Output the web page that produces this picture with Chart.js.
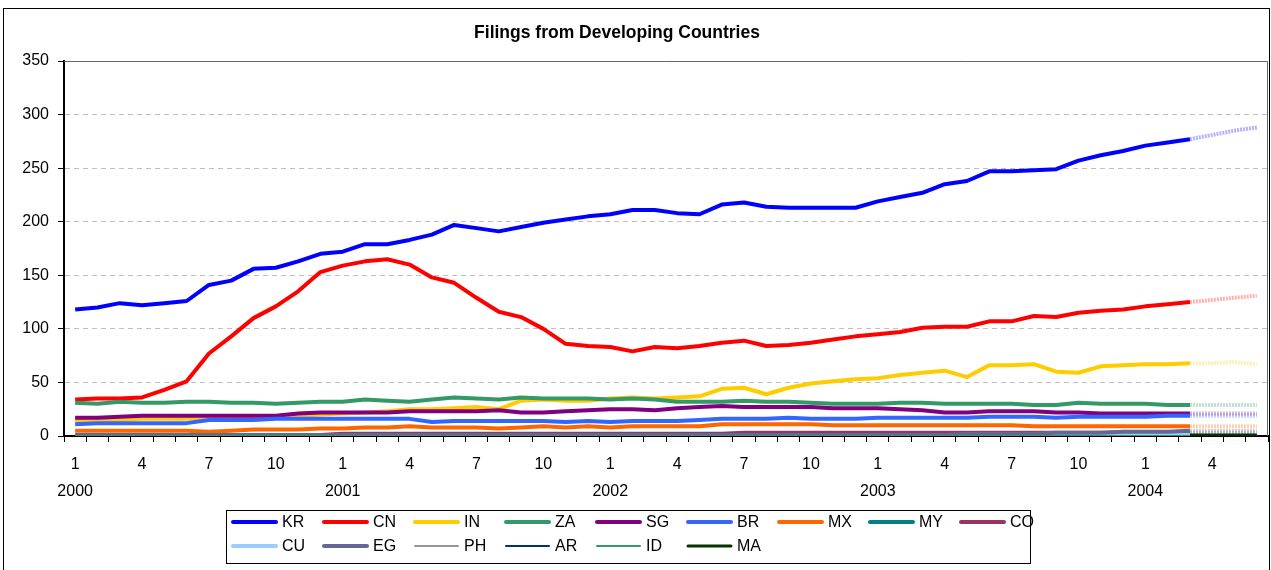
<!DOCTYPE html>
<html>
<head>
<meta charset="utf-8">
<title>Filings from Developing Countries</title>
<script src="https://cdn.jsdelivr.net/npm/chart.js@4.4.1/dist/chart.umd.min.js"></script>
<style>
    html, body { margin: 0; padding: 0; background: #fff; }
    canvas { display: block; }
</style>
</head>
<body>
<canvas id="grafico" width="1271" height="570"></canvas>
<script>
// --- Dados ---

const categories = [
    '2000-01', '2000-02', '2000-03', '2000-04', '2000-05', '2000-06', '2000-07', '2000-08', '2000-09', '2000-10', '2000-11', '2000-12',
    '2001-01', '2001-02', '2001-03', '2001-04', '2001-05', '2001-06', '2001-07', '2001-08', '2001-09', '2001-10', '2001-11', '2001-12',
    '2002-01', '2002-02', '2002-03', '2002-04', '2002-05', '2002-06', '2002-07', '2002-08', '2002-09', '2002-10', '2002-11', '2002-12',
    '2003-01', '2003-02', '2003-03', '2003-04', '2003-05', '2003-06', '2003-07', '2003-08', '2003-09', '2003-10', '2003-11', '2003-12',
    '2004-01', '2004-02', '2004-03', '2004-04', '2004-05', '2004-06'
];
const tickMonths = ['1', '4', '7', '10'];
const lastActual = '2004-03'; // depois disso é projeção
const yTicks = { min: 0, max: 350, step: 50 };

const kr = [118, 120, 124, 122, 124, 126, 141, 145, 156, 157, 163, 170, 172, 179, 179, 183, 188, 197, 194, 191, 195, 199, 202, 205, 207, 211, 211, 208, 207, 216, 218, 214, 213, 213, 213, 213, 219, 223, 227, 235, 238, 247, 247, 248, 249, 257, 262, 266, 271, 274, 277, 281, 285, 288];
const cn = [34, 35, 35, 36, 43, 51, 77, 93, 110, 121, 135, 153, 159, 163, 165, 160, 148, 143, 129, 116, 111, 100, 86, 84, 83, 79, 83, 82, 84, 87, 89, 84, 85, 87, 90, 93, 95, 97, 101, 102, 102, 107, 107, 112, 111, 115, 117, 118, 121, 123, 125, 127, 129, 131];
const inn = [14, 15, 15, 16, 16, 16, 17, 17, 17, 18, 19, 20, 21, 22, 23, 25, 25, 26, 27, 25, 33, 34, 33, 33, 35, 36, 35, 36, 37, 44, 45, 39, 45, 49, 51, 53, 54, 57, 59, 61, 55, 66, 66, 67, 60, 59, 65, 66, 67, 67, 68, 68, 69, 67];
const za = [31, 30, 32, 31, 31, 32, 32, 31, 31, 30, 31, 32, 32, 34, 33, 32, 34, 36, 35, 34, 36, 35, 35, 35, 34, 35, 34, 32, 32, 32, 33, 32, 32, 31, 30, 30, 30, 31, 31, 30, 30, 30, 30, 29, 29, 31, 30, 30, 30, 29, 29, 29, 29, 29];
const sg = [17, 17, 18, 19, 19, 19, 19, 19, 19, 19, 21, 22, 22, 22, 22, 23, 23, 23, 23, 24, 22, 22, 23, 24, 25, 25, 24, 26, 27, 28, 27, 27, 27, 27, 26, 26, 26, 25, 24, 22, 22, 23, 23, 23, 22, 22, 21, 21, 21, 21, 21, 21, 21, 21];
const br = [11, 12, 12, 12, 12, 12, 15, 15, 15, 16, 16, 16, 16, 16, 16, 16, 13, 14, 14, 14, 14, 14, 13, 14, 13, 14, 14, 14, 15, 16, 16, 16, 17, 16, 16, 16, 17, 17, 17, 17, 17, 18, 18, 18, 17, 18, 18, 18, 18, 19, 19, 19, 19, 19];
const mx = [5, 5, 5, 5, 5, 5, 4, 5, 6, 6, 6, 7, 7, 8, 8, 9, 8, 8, 8, 7, 8, 9, 8, 9, 8, 9, 9, 9, 9, 11, 11, 11, 11, 11, 10, 10, 10, 10, 10, 10, 10, 10, 10, 9, 9, 9, 9, 9, 9, 9, 9, 9, 9, 9];
const my = [1, 1, 1, 1, 1, 1, 1, 1, 1, 1, 1, 1, 1, 1, 1, 1, 1, 1, 1, 1, 1, 1, 1, 1, 1, 1, 1, 1, 1, 1, 1, 1, 1, 1, 1, 1, 1, 1, 1, 1, 1, 1, 1, 1, 1, 1, 1, 1, 1, 1, 1, 1, 1, 1];
const co = [1, 1, 1, 1, 1, 1, 1, 1, 1, 1, 1, 1, 2, 2, 2, 2, 2, 2, 2, 2, 2, 2, 2, 2, 2, 2, 2, 2, 2, 2, 3, 3, 3, 3, 3, 3, 3, 3, 3, 3, 3, 3, 3, 3, 3, 3, 3, 3, 3, 3, 3, 3, 3, 3];
const cu = [1, 1, 1, 1, 1, 1, 1, 1, 1, 1, 1, 1, 1, 1, 1, 1, 1, 1, 1, 1, 1, 1, 1, 1, 1, 1, 1, 1, 1, 1, 1, 1, 1, 1, 1, 1, 1, 1, 1, 1, 1, 1, 1, 1, 1, 1, 1, 1, 1, 1, 1, 1, 1, 1];
const eg = [1, 1, 1, 1, 1, 1, 1, 1, 1, 1, 1, 1, 1, 1, 1, 1, 1, 1, 1, 1, 1, 1, 1, 1, 1, 1, 1, 1, 1, 1, 1, 1, 1, 1, 1, 1, 1, 1, 1, 1, 2, 2, 2, 2, 3, 3, 3, 4, 4, 4, 5, 5, 5, 5];
const ph = [0, 0, 0, 0, 0, 0, 0, 0, 0, 0, 0, 0, 0, 0, 0, 0, 0, 0, 0, 0, 0, 0, 0, 0, 0, 0, 0, 0, 0, 0, 0, 0, 0, 0, 0, 0, 0, 0, 0, 0, 0, 0, 0, 0, 0, 0, 0, 0, 0, 0, 0, 0, 0, 0];
const ar = [0, 0, 0, 0, 0, 0, 0, 0, 0, 0, 0, 0, 0, 0, 0, 0, 0, 0, 0, 0, 0, 0, 0, 0, 0, 0, 0, 0, 0, 0, 0, 0, 0, 0, 0, 0, 0, 0, 0, 0, 0, 0, 0, 0, 0, 0, 0, 0, 0, 0, 0, 0, 0, 0];
const id = [0, 0, 0, 0, 0, 0, 0, 0, 0, 0, 0, 0, 0, 0, 0, 0, 0, 0, 0, 0, 0, 0, 0, 0, 0, 0, 0, 0, 0, 0, 0, 0, 0, 0, 0, 0, 0, 0, 0, 0, 0, 0, 0, 0, 0, 0, 0, 0, 0, 0, 0, 0, 0, 0];
const ma = [null, null, null, null, null, null, null, null, null, null, null, null, null, null, null, null, null, null, null, null, null, null, null, null, null, null, null, null, null, null, null, null, null, null, null, null, null, null, null, null, null, null, null, null, null, null, null, null, null, null, 1, 1, 1, 1];

// --- Séries (dados + estilo) ---

const series = [
    { code: 'KR', values: kr, color: '#0000FF', width: 4, projected: true },
    { code: 'CN', values: cn, color: '#FF0000', width: 4, projected: true },
    { code: 'IN', values: inn, color: '#FFCC00', width: 4, projected: true },
    { code: 'ZA', values: za, color: '#339966', width: 4, projected: true },
    { code: 'SG', values: sg, color: '#800080', width: 4, projected: true },
    { code: 'BR', values: br, color: '#3366FF', width: 4, projected: true },
    { code: 'MX', values: mx, color: '#FF6600', width: 4, projected: true },
    { code: 'MY', values: my, color: '#008080', width: 4, projected: true },
    { code: 'CO', values: co, color: '#993366', width: 4, projected: true },
    { code: 'CU', values: cu, color: '#99CCFF', width: 4, projected: true },
    { code: 'EG', values: eg, color: '#666699', width: 4, projected: true },
    { code: 'PH', values: ph, color: '#969696', width: 2, projected: true },
    { code: 'AR', values: ar, color: '#003366', width: 2, projected: true },
    { code: 'ID', values: id, color: '#339966', width: 2, projected: true },
    { code: 'MA', values: ma, color: '#003300', width: 3, projected: false }
];

const projStart = categories.indexOf(lastActual);
const fonte = "'Liberation Sans', Arial, sans-serif";

const fade = (hex, a) => {
    const n = parseInt(hex.slice(1), 16);
    return `rgba(${(n >> 16) & 255}, ${(n >> 8) & 255}, ${n & 255}, ${a})`;
};

const isProj = (s, ctx) => s.projected && ctx.p0DataIndex >= projStart;

// Moldura, título e legenda no estilo Excel
const excelFrame = {
    id: 'excelFrame',
    beforeDraw(chart) {
        const ctx = chart.ctx;
        ctx.save();
        ctx.fillStyle = '#fff';
        ctx.fillRect(0, 0, chart.width, chart.height);
        ctx.restore();
    },
    beforeDatasetsDraw(chart) {
        const { ctx, chartArea: a } = chart;
        ctx.save();
        ctx.strokeStyle = '#666';
        ctx.lineWidth = 1;
        ctx.beginPath();
        ctx.moveTo(a.left, a.top + 0.5);
        ctx.lineTo(a.right - 0.5, a.top + 0.5);
        ctx.lineTo(a.right - 0.5, a.bottom);
        ctx.stroke();
        ctx.restore();
    },
    afterDraw(chart) {
        const ctx = chart.ctx;
        ctx.save();

        // moldura externa
        ctx.strokeStyle = '#000';
        ctx.lineWidth = 1;
        ctx.strokeRect(3.5, 8.5, 1266, 600);

        // título
        ctx.fillStyle = '#000';
        ctx.font = `bold 17.5px ${fonte}`;
        ctx.textAlign = 'center';
        ctx.textBaseline = 'middle';
        ctx.fillText('Filings from Developing Countries', 617, 33);

        // legenda
        ctx.strokeRect(226.5, 510.5, 804, 53);
        ctx.font = `16px ${fonte}`;
        ctx.textAlign = 'left';
        chart.data.datasets.forEach((ds, k) => {
            const x = 233 + (k % 9) * 91;
            const y = 522 + Math.floor(k / 9) * 24;
            ctx.strokeStyle = ds.borderColor;
            ctx.lineWidth = ds.borderWidth;
            ctx.lineCap = 'round';
            ctx.beginPath();
            ctx.moveTo(x, y);
            ctx.lineTo(x + 43, y);
            ctx.stroke();
            ctx.fillStyle = '#000';
            ctx.fillText(ds.label, x + 49, y + 1);
        });
        ctx.restore();
    }
};

const datasets = series.map((s, i) => ({
    label: s.code,
    data: s.values,
    borderColor: s.color,
    backgroundColor: s.color,
    borderWidth: s.width,
    borderJoinStyle: 'round',
    pointRadius: 0,
    pointHoverRadius: 0,
    tension: 0,
    fill: false,
    order: series.length - i,
    segment: {
        borderColor: ctx => isProj(s, ctx) ? fade(s.color, 0.3) : undefined,
        borderDash: ctx => isProj(s, ctx) ? [2, 1] : undefined
    }
}));

Chart.defaults.font.family = fonte;
Chart.defaults.font.size = 16;
Chart.defaults.color = '#000';

new Chart(document.getElementById('grafico'), {
    type: 'line',
    data: { labels: categories, datasets },
    options: {
        responsive: false,
        devicePixelRatio: 1,
        animation: false,
        layout: { padding: { left: 10, right: 3, top: 61, bottom: 74 } },
        plugins: {
            legend: { display: false },
            title: { display: false },
            tooltip: { enabled: false }
        },
        scales: {
            x: {
                offset: true,
                grid: { offset: true, drawOnChartArea: false, drawTicks: true, tickLength: 6, tickColor: '#000' },
                border: { color: '#000', width: 2 },
                ticks: {
                    autoSkip: false,
                    maxRotation: 0,
                    minRotation: 0,
                    padding: 9,
                    font: { size: 16, lineHeight: 1.7 },
                    callback: (value, index) => {
                        const [ano, mes] = categories[index].split('-');
                        const m = String(Number(mes));
                        if (!tickMonths.includes(m)) return '';
                        return m === '1' ? [m, ano] : m;
                    }
                },
                afterFit: scale => { scale.height = 60; }
            },
            y: {
                min: yTicks.min,
                max: yTicks.max,
                ticks: { stepSize: yTicks.step, padding: 9, font: { size: 16 } },
                grid: {
                    color: ctx => (ctx.tick && (ctx.tick.value === yTicks.min || ctx.tick.value === yTicks.max)) ? 'rgba(0,0,0,0)' : '#c0c0c0',
                    tickLength: 6,
                    tickColor: '#000'
                },
                border: { color: '#000', width: 2, dash: [5, 4] },
                afterFit: scale => { scale.width = 54; }
            }
        }
    },
    plugins: [excelFrame]
});
</script>
</body>
</html>
